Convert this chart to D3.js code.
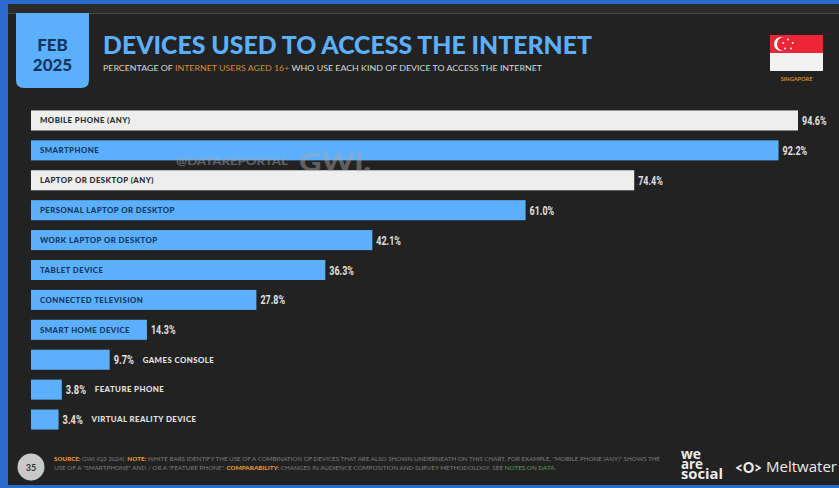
<!DOCTYPE html>
<html>
<head>
<meta charset="utf-8">
<script src="https://cdn.jsdelivr.net/npm/d3@7/dist/d3.min.js"></script>
<style>
html,body{margin:0;padding:0;background:#2a6ccb;overflow:hidden}
svg{display:block;font-family:Lato,"Open Sans",sans-serif}
</style>
</head>
<body>
<svg id="chart" width="839" height="488"></svg>
<script>
// Device usage among internet users, Singapore, February 2025
const categories = ["MOBILE PHONE (ANY)","SMARTPHONE","LAPTOP OR DESKTOP (ANY)","PERSONAL LAPTOP OR DESKTOP","WORK LAPTOP OR DESKTOP","TABLET DEVICE","CONNECTED TELEVISION","SMART HOME DEVICE","GAMES CONSOLE","FEATURE PHONE","VIRTUAL REALITY DEVICE"];
const values = [94.6,92.2,74.4,61.0,42.1,36.3,27.8,14.3,9.7,3.8,3.4];
const aggregate = ["MOBILE PHONE (ANY)","LAPTOP OR DESKTOP (ANY)"];
const outsideLabels = ["GAMES CONSOLE","FEATURE PHONE","VIRTUAL REALITY DEVICE"];

const BLUE = "#5cb0fb", WHITE = "#eeeeee", DARK = "#222222", NAVY = "#12365f";
const svg = d3.select("#chart");

// Slide panel
svg.append("rect").attr("x",8).attr("y",4).attr("width",831).attr("height",481).attr("fill",DARK);
svg.append("rect").attr("x",8).attr("y",4).attr("width",831).attr("height",9).attr("fill","#2b2b2b");
svg.append("line").attr("x1",8).attr("x2",839).attr("y1",13.5).attr("y2",13.5).attr("stroke","#4a4a4a");

// Date badge
svg.append("path")
  .attr("d","M16,13H89V80Q89,88 81,88H24Q16,88 16,80Z")
  .attr("fill",BLUE);
const badge = svg.append("g").attr("text-anchor","middle").attr("fill",NAVY)
  .attr("font-weight",900).attr("font-size",17);
badge.append("text").attr("x",52.5).attr("y",51).text("FEB");
badge.append("text").attr("x",52.5).attr("y",71).text("2025");

// Heading
svg.append("text").attr("x",103).attr("y",54).attr("fill",BLUE)
  .attr("font-weight",900).attr("font-size",25.5)
  .attr("textLength",489).attr("lengthAdjust","spacingAndGlyphs")
  .text("DEVICES USED TO ACCESS THE INTERNET");
const sub = svg.append("text").attr("x",103).attr("y",71).attr("fill","#d8d8d8")
  .attr("font-size",7.6).attr("textLength",439).attr("lengthAdjust","spacingAndGlyphs");
sub.append("tspan").text("PERCENTAGE OF ");
sub.append("tspan").attr("fill","#d98a2b").text("INTERNET USERS AGED 16+");
sub.append("tspan").text(" WHO USE EACH KIND OF DEVICE TO ACCESS THE INTERNET");

// Flag of Singapore
const flag = svg.append("g").attr("transform","translate(770,35)");
flag.append("rect").attr("width",53).attr("height",18).attr("fill","#ee2536");
flag.append("rect").attr("y",18).attr("width",53).attr("height",18).attr("fill","#f2f2f2");
flag.append("circle").attr("cx",11).attr("cy",9).attr("r",7).attr("fill","#fff");
flag.append("circle").attr("cx",14).attr("cy",9).attr("r",7).attr("fill","#ee2536");
flag.selectAll(".star").data(d3.range(5)).join("circle")
  .attr("cx",i=>18+5*Math.sin(i*2*Math.PI/5))
  .attr("cy",i=>9.5-5*Math.cos(i*2*Math.PI/5))
  .attr("r",1).attr("fill","#fff");
svg.append("text").attr("x",796.5).attr("y",81).attr("text-anchor","middle")
  .attr("fill","#d98a2b").attr("font-weight",700).attr("font-size",5.6).text("SINGAPORE");

// Scales
const x = d3.scaleLinear().domain([0,94.6]).range([31,798]);
const y = d3.scaleBand().domain(categories).range([105.5,434.5]).paddingInner(0.33).paddingOuter(0.165);

// Bars
svg.append("g").selectAll("rect").data(categories).join("rect")
  .attr("x",x(0))
  .attr("y",d=>y(d))
  .attr("width",(d,i)=>x(values[i])-x(0))
  .attr("height",y.bandwidth())
  .attr("fill",d=>aggregate.includes(d)?WHITE:BLUE);

// Condensed value labels sit just past the end of each bar
svg.append("g").selectAll("text").data(categories).join("text")
  .attr("x",(d,i)=>x(values[i])+4)
  .attr("y",d=>y(d)+y.bandwidth()/2+4.5)
  .attr("fill","#e0e0e0")
  .style("font-family","Roboto,sans-serif")
  .attr("font-weight",700).attr("font-size",12)
  .attr("textLength",(d,i)=>values[i].toFixed(1).length*4.4+7)
  .attr("lengthAdjust","spacingAndGlyphs")
  .text((d,i)=>values[i].toFixed(1)+"%");

// Category names: inside long bars, after the value on short ones
svg.append("g").selectAll("text").data(categories).join("text")
  .attr("x",(d,i)=>outsideLabels.includes(d)?x(values[i])+33:x(0)+9)
  .attr("y",d=>y(d)+y.bandwidth()/2+2.8)
  .attr("fill",d=>outsideLabels.includes(d)?"#e4e4e4":(aggregate.includes(d)?"#2a2a2a":NAVY))
  .attr("font-weight",900).attr("font-size",7.8)
  .attr("letter-spacing",0.45)
  .text(d=>d);

// Watermark over the upper bars
const mark = svg.append("g").attr("fill","#a9a9a9").attr("opacity",0.45).attr("font-weight",900);
mark.append("text").attr("x",176).attr("y",165).attr("font-size",12)
  .attr("textLength",112).attr("lengthAdjust","spacingAndGlyphs").text("@DATAREPORTAL");
mark.append("text").attr("x",299).attr("y",171).attr("font-size",25)
  .attr("textLength",72).attr("lengthAdjust","spacingAndGlyphs").text("GWI.");

// Footer
svg.append("circle").attr("cx",31).attr("cy",467).attr("r",13.5).attr("fill","#c9c9c9");
svg.append("text").attr("x",31).attr("y",470.5).attr("text-anchor","middle")
  .attr("fill","#333").attr("font-weight",700).attr("font-size",9).text("35");

const foot1 = svg.append("text").attr("x",54).attr("y",461).attr("fill","#7c7c7c")
  .attr("font-size",5.2).attr("textLength",606).attr("lengthAdjust","spacingAndGlyphs");
foot1.append("tspan").attr("fill","#e39a34").attr("font-weight",900).text("SOURCE:");
foot1.append("tspan").text(" GWI (Q3 2024). ");
foot1.append("tspan").attr("fill","#e39a34").attr("font-weight",900).text("NOTE:");
foot1.append("tspan").text(" WHITE BARS IDENTIFY THE USE OF A COMBINATION OF DEVICES THAT ARE ALSO SHOWN UNDERNEATH ON THIS CHART. FOR EXAMPLE, \"MOBILE PHONE (ANY)\" SHOWS THE");
const foot2 = svg.append("text").attr("x",54).attr("y",470).attr("fill","#7c7c7c")
  .attr("font-size",5.2).attr("textLength",502).attr("lengthAdjust","spacingAndGlyphs");
foot2.append("tspan").text("USE OF A \"SMARTPHONE\" AND / OR A \"FEATURE PHONE\". ");
foot2.append("tspan").attr("fill","#e39a34").attr("font-weight",900).text("COMPARABILITY:");
foot2.append("tspan").text(" CHANGES IN AUDIENCE COMPOSITION AND SURVEY METHODOLOGY. SEE ");
foot2.append("tspan").attr("fill","#5f9a5a").text("NOTES ON DATA");
foot2.append("tspan").text(".");

// Publisher marks
const we = svg.append("g").attr("fill","#ececec").attr("font-weight",700)
  .style("font-family","'Open Sans',sans-serif").attr("font-size",13.5);
["we","are","social"].forEach((w,i)=>{
  we.append("text").attr("x",681).attr("y",458.5+i*10.4)
    .attr("textLength",i===2?42:(i===0?20:22)).attr("lengthAdjust","spacingAndGlyphs").text(w);
});
svg.append("text").attr("x",735).attr("y",472.5).attr("fill","#ececec")
  .attr("font-weight",900).attr("font-size",15)
  .attr("textLength",27).attr("lengthAdjust","spacingAndGlyphs").text("<O>");
svg.append("text").attr("x",766).attr("y",472).attr("fill","#ececec")
  .style("font-family","'Open Sans',sans-serif").attr("font-size",15)
  .attr("textLength",71).attr("lengthAdjust","spacingAndGlyphs").text("Meltwater");
</script>
</body>
</html>
